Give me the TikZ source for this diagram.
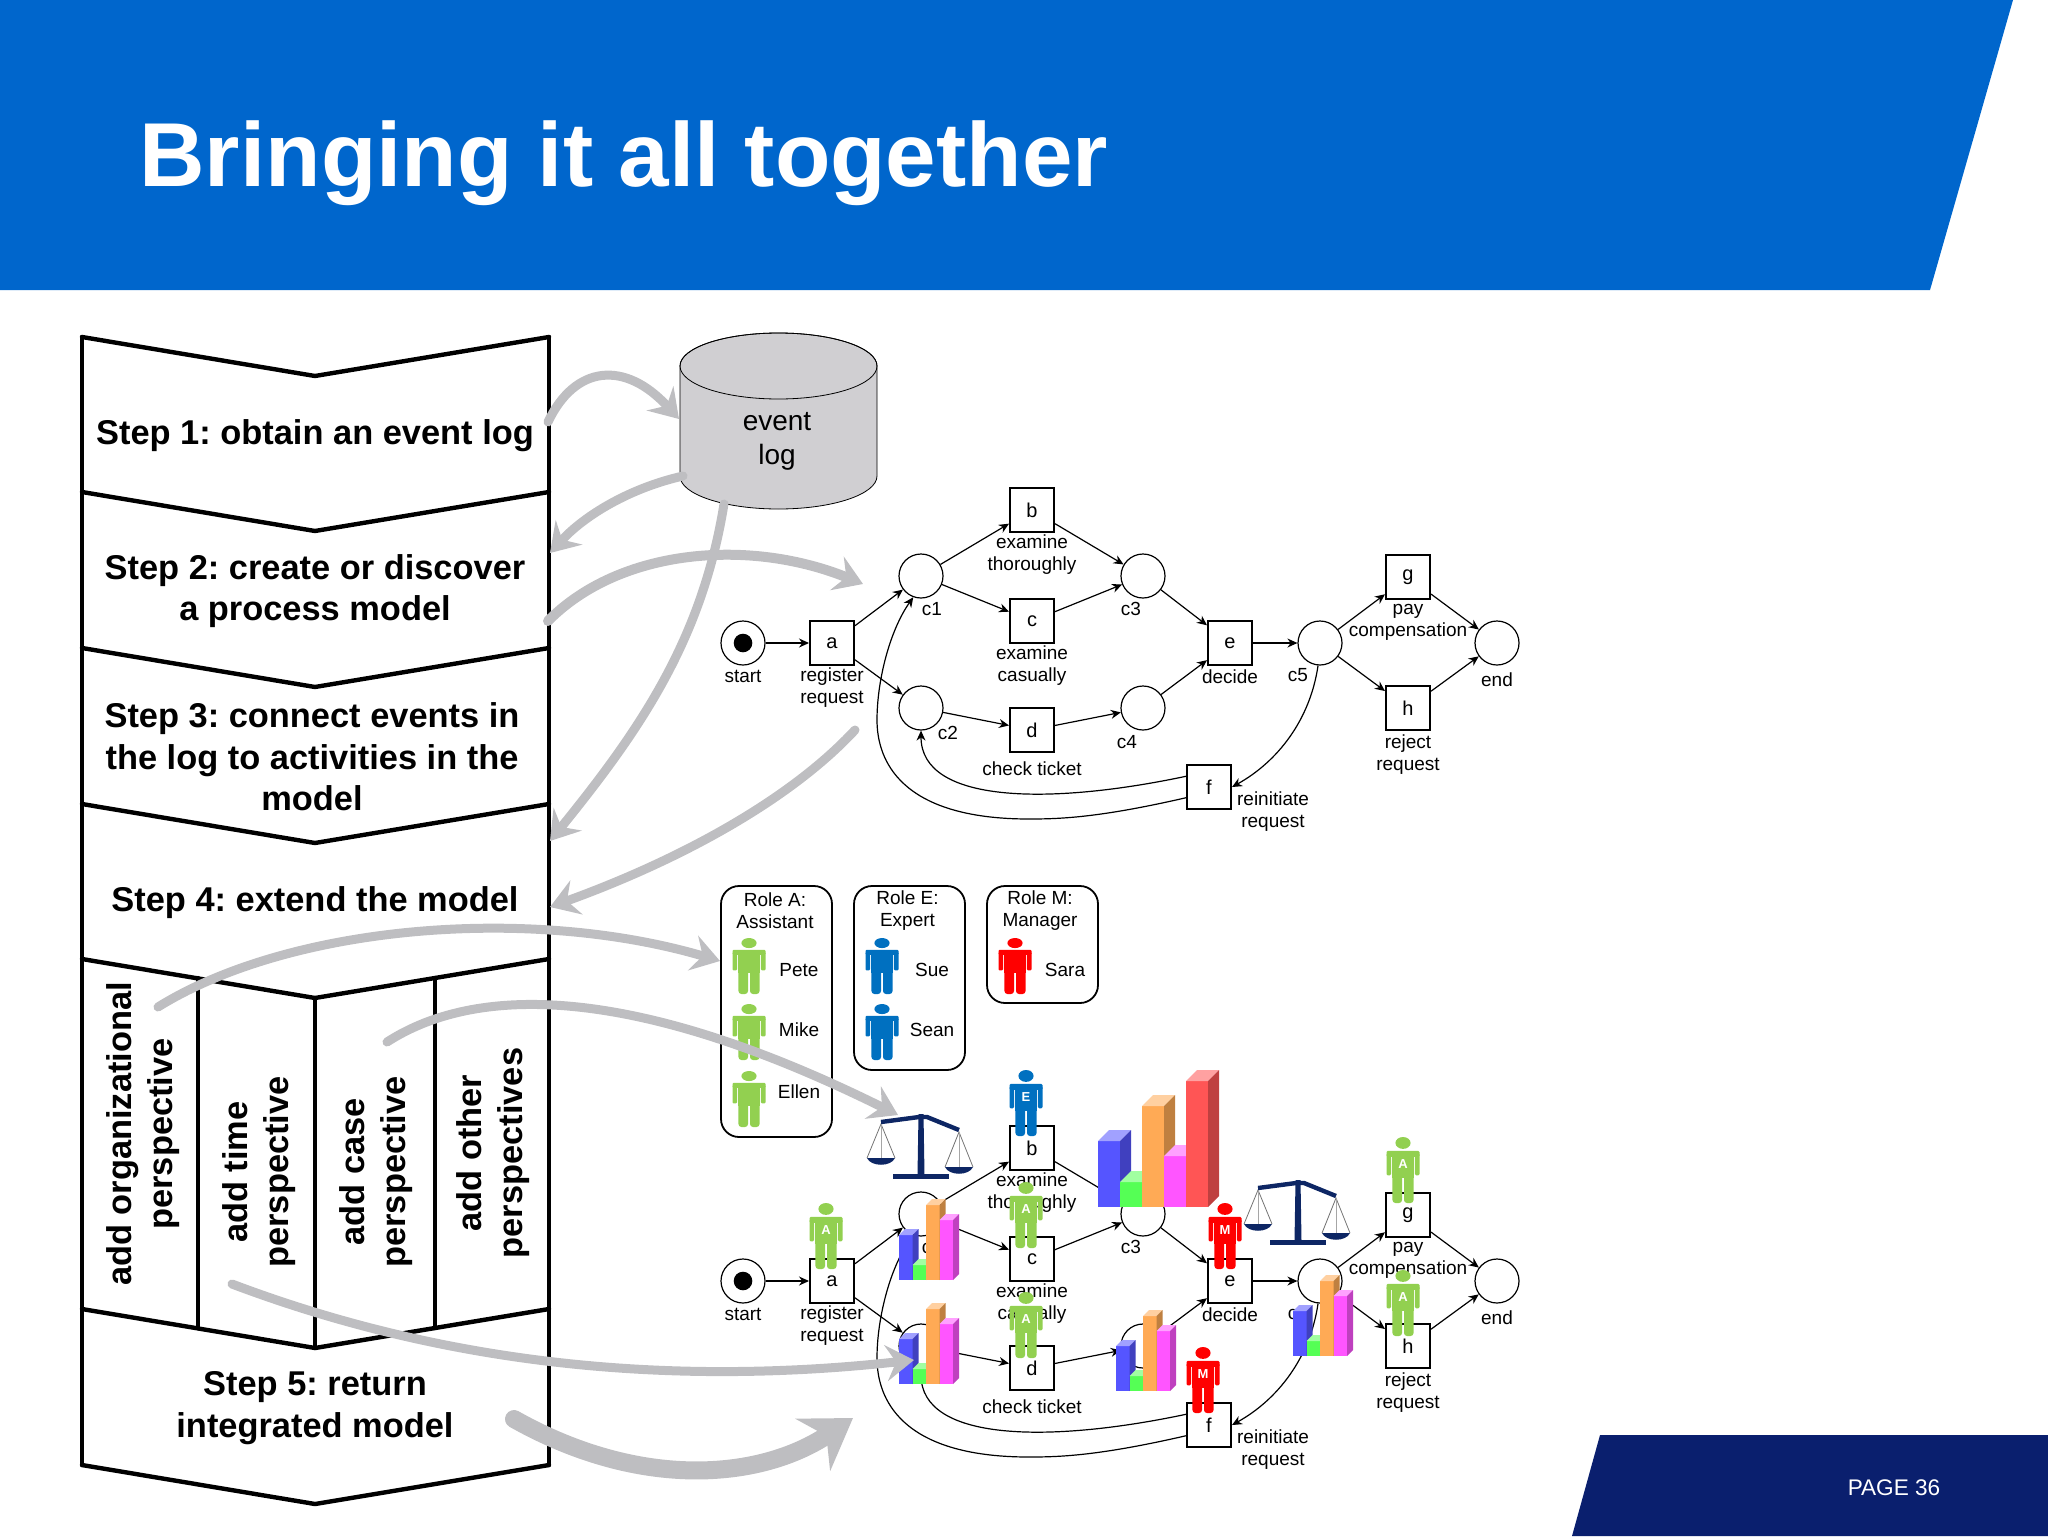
\documentclass[tikz,border=0pt]{standalone}
\usepackage{fontspec}
\setmainfont{Liberation Sans}
\usepackage{xcolor}
\usetikzlibrary{arrows.meta,calc,positioning}
\definecolor{headerBlue}{RGB}{0,102,204}
\definecolor{footerNavy}{RGB}{10,31,110}
\definecolor{flowGray}{RGB}{190,190,193}
\definecolor{logGray}{RGB}{208,207,210}
\definecolor{scaleNavy}{RGB}{13,38,100}
\definecolor{roleGreen}{RGB}{146,208,80}
\definecolor{roleBlue}{RGB}{0,112,192}
\definecolor{roleRed}{RGB}{255,0,0}
\definecolor{chartBlue}{RGB}{85,85,255}
\definecolor{chartGreen}{RGB}{85,255,85}
\definecolor{chartOrange}{RGB}{255,170,85}
\definecolor{chartPink}{RGB}{255,85,255}
\definecolor{chartRed}{RGB}{255,85,85}
\tikzset{
  stair/.style={line width=2.2pt, line cap=round, line join=round},
  steptext/.style={font=\fontsize{17.2}{20.8}\selectfont\bfseries\frenchspacing, align=center, inner sep=0pt},
  sidetext/.style={steptext, rotate=90},
  place/.style={circle, draw, minimum size=22pt, inner sep=0pt, line width=0.6pt},
  trans/.style={rectangle, draw, minimum size=22pt, inner sep=0pt, line width=1pt, font=\fontsize{10}{12}\selectfont},
  netlabel/.style={font=\fontsize{9.5}{11}\selectfont, align=center, inner sep=0pt},
  arc/.style={-{Stealth[length=5pt,width=4.5pt]}, line width=0.6pt},
  flow/.style={-{Stealth[length=14pt,width=18pt,inset=5pt]}, draw=flowGray, line width=4.5pt, line cap=round},
  flowBig/.style={-{Stealth[length=24pt,width=31pt,inset=8pt]}, draw=flowGray, line width=9pt, line cap=round},
  rolebox/.style={rectangle, draw, rounded corners=9pt, minimum width=55.5pt, line width=0.9pt, inner sep=0pt},
  personletter/.style={text=white, font=\fontsize{6.5}{7}\selectfont\bfseries, inner sep=0pt}
}
% one person, top of the head at (x,top)
\newcommand{\Person}[4]{%
  \begin{scope}[shift={(#1,#2)}, x=16.5pt, y=-#3]
    \fill[#4] (0,0.09) ellipse [x radius=0.23, y radius=0.09];
    \fill[#4, rounded corners=0.6pt] (-0.5,0.21) rectangle (0.5,0.30);
    \fill[#4, rounded corners=0.6pt] (-0.5,0.25) rectangle (-0.36,0.58);
    \fill[#4, rounded corners=0.6pt] (0.36,0.25) rectangle (0.5,0.58);
    \fill[#4] (-0.32,0.25) rectangle (0.32,0.62);
    \fill[#4, rounded corners=1.5pt] (-0.32,0.55) rectangle (-0.03,1);
    \fill[#4, rounded corners=1.5pt] (0.03,0.55) rectangle (0.32,1);
  \end{scope}%
}
% person with the role letter on the chest
\newcommand{\RolePerson}[5]{%
  \Person{#1}{#2}{33pt}{#3}
  \node[personletter] (#5) at (#1,#2+27) {#4};
}
% one bar: x, base, height, width, depth, colour
\newcommand{\BarBlock}[6]{%
  \fill[#6] (#1,#2) rectangle ++(#4,-#3);
  \fill[#6!55!white] (#1,#2) ++(0,-#3) -- ++(#5,-#5) -- ++(#4,0) -- ++(-#5,#5) -- cycle;
  \fill[#6!75!black] (#1,#2) ++(#4,0) -- ++(#5,-#5) -- ++(0,-#3) -- ++(-#5,#5) -- cycle;
}
\newcommand{\SmallChart}[2]{%
  \BarBlock{#1}{#2}{45}{13.5}{6}{chartBlue}
  \BarBlock{#1+13.5}{#2}{15}{13.5}{6}{chartGreen}
  \BarBlock{#1+27}{#2}{75}{13.5}{6}{chartOrange}
  \BarBlock{#1+40.5}{#2}{60}{13.5}{6}{chartPink}
}
% balance, x and y are the foot of the post
\newcommand{\Balance}[2]{%
  \begin{scope}[shift={(#1,#2)}]
    \foreach \ex/\ey/\py in {-40/-55/-21, 38/-47/-12}{%
      \draw[black!55, line width=0.4pt] (\ex-14,\py) -- (\ex,\ey) -- (\ex+14,\py);
      \draw[black!35, line width=0.4pt] (\ex,\ey) -- (\ex,\py);
      \fill[scaleNavy] (\ex-14,\py) .. controls (\ex-10,\py+9) and (\ex+10,\py+9) .. (\ex+14,\py) -- cycle;
    }
    \fill[scaleNavy] (-2.5,-65) -- (2.5,-65) -- (3.5,-4) -- (-3.5,-4) -- cycle;
    \fill[scaleNavy] (-28,-5) rectangle (28,0);
    \draw[scaleNavy, line width=2.2pt] (-40,-57) -- (-2,-62) -- (6,-62) -- (38,-49);
  \end{scope}%
}
% the process model, drawn twice
\newcommand{\PetriNet}[2]{%
  \begin{scope}[shift={(0,#1)}, name prefix=#2]
    \foreach \n/\px/\py in {start/743/643, c1/921/576, c2/921/708, c3/1143/576, c4/1143/708, c5/1320/643, end/1497/643}
      \node[place] (\n) at (\px,\py) {};
    \foreach \n/\px/\py in {a/832/643, b/1032/510, c/1032/621, d/1032/730, e/1230/643, f/1209/787, g/1408/577, h/1408/708}
      \node[trans] (\n) at (\px,\py) {\n};
    \fill (743,643) circle [radius=9.3];
    \foreach \s/\t in {start/a, a/c1, a/c2, c1/b, c1/c, c2/d, b/c3, c/c3, d/c4, c3/e, c4/e, e/c5, c5/g, c5/h, g/end, h/end}
      \draw[arc] (\s) -- (\t);
    \draw[arc] (f.155) .. controls +(-137,29) and +(0,73) .. (c2.south);
    \draw[arc] (f.205) .. controls +(-87,20) and (1060,819) .. (1029,819)
      .. controls (900,819) and (877,760) .. (877,720)
      .. controls (877,680) and (890,630) .. (c1.250);
    \draw[arc] (c5.265) .. controls +(-8,55) and +(45,-25) .. (f.east);
    \foreach \n/\px/\py/\txt in {start/743/676/start, a/832/688/register\\request, c1/932/609/c1,
        b/1032/555/examine\\thoroughly, c3/1131/609/c3, c/1032/666/examine\\casually, c2/948/733/c2,
        d/1032/769/check ticket, c4/1127/742/c4, e/1230/677/decide, c5/1298/675/c5,
        g/1408/622/pay\\compensation, h/1408/755/reject\\request, end/1497/680/end,
        f/1273/812/reinitiate\\request}
      \node[netlabel] (lab\n) at (\px,\py) {\txt};
  \end{scope}%
}

\begin{document}
\begin{tikzpicture}[x=0.5pt, y=-0.5pt]
  \useasboundingbox (0,0) rectangle (2048,1536);
  % header and footer
  \fill[headerBlue] (0,0) -- (2013,0) -- (1930,290) -- (0,290) -- cycle;
  \fill[footerNavy] (1600,1435) -- (2048,1435) -- (2048,1536) -- (1572,1536) -- cycle;
  \node[anchor=base west, inner sep=0pt, text=white, font=\fontsize{45.4}{50}\selectfont\bfseries] (title) at (139,186) {Bringing it all together};
  \node[inner sep=0pt, text=white, font=\fontsize{11.3}{13}\selectfont] (page) at (1894,1488) {PAGE 36};

  % the staircase of steps
  \foreach \y in {337,492,648,804,959,1309,1465}
    \draw[stair] (82,\y) -- (315,{\y+39}) -- (549,\y);
  \draw[stair] (82,337) -- (82,1465);
  \draw[stair] (549,337) -- (549,1465);
  \draw[stair] (198,978) -- (198,1328);
  \draw[stair] (315,998) -- (315,1348);
  \draw[stair] (435,978) -- (435,1328);

  \node[steptext] (step1) at (315,436) {Step 1: obtain an event log};
  \node[steptext] (step2) at (315,591) {Step 2: create or discover\\a process model};
  \node[steptext] (step3) at (312,757) {Step 3: connect events in\\the log to activities in the\\model};
  \node[steptext] (step4) at (315,903) {Step 4: extend the model};
  \node[steptext] (step5) at (315,1408) {Step 5: return\\integrated model};
  \node[sidetext] (sideorg) at (143,1134) {add organizational\\perspective};
  \node[sidetext] (sidetime) at (259,1172) {add time\\perspective};
  \node[sidetext] (sidecase) at (376,1172) {add case\\perspective};
  \node[sidetext] (sideother) at (493,1153) {add other\\perspectives};

  % event log
  \draw[fill=logGray, line width=0.4pt] (680,366) -- (680,476)
    arc [start angle=180, end angle=360, x radius=49.25pt, y radius=16.5pt]
    -- (877,366) arc [start angle=0, end angle=180, x radius=49.25pt, y radius=16.5pt] -- cycle;
  \draw[line width=0.4pt] (778.5,366) ellipse [x radius=49.25pt, y radius=16.5pt];
  \node[font=\fontsize{14}{17}\selectfont, align=center, inner sep=0pt] (log) at (777,441) {event\\log};

  \PetriNet{0}{}

  % roles
  \node[rolebox, minimum height=125.5pt] (roleA) at (776.5,1011.5) {};
  \node[rolebox, minimum height=92pt] (roleE) at (909.5,978) {};
  \node[rolebox, minimum height=58.5pt] (roleM) at (1042.5,944.5) {};
  \node[netlabel] (titleA) at (775,911) {Role A:\\Assistant};
  \node[netlabel] (titleE) at (907.5,911) {Role E:\\Expert};
  \node[netlabel] (titleM) at (1040,911) {Role M:\\Manager};
  \foreach \py in {938,1004,1071}{
    \Person{749}{\py}{28pt}{roleGreen}
  }
  \foreach \py in {938,1004}{
    \Person{882}{\py}{28pt}{roleBlue}
  }
  \Person{1015}{938}{28pt}{roleRed}
  \foreach \n/\px/\py in {Pete/799/970, Mike/799/1030, Ellen/799/1092, Sue/932/970, Sean/932/1030, Sara/1065/970}
    \node[netlabel] (\n) at (\px,\py) {\n};

  % the integrated model
  \PetriNet{638}{m-}
  \Balance{921}{1179}
  \Balance{1298}{1245}
  \BarBlock{1098}{1207}{66}{22}{11}{chartBlue}
  \BarBlock{1120}{1207}{25}{22}{11}{chartGreen}
  \BarBlock{1142}{1207}{101}{22}{11}{chartOrange}
  \BarBlock{1164}{1207}{51}{22}{11}{chartPink}
  \BarBlock{1186}{1207}{126}{22}{11}{chartRed}
  \SmallChart{899}{1280}
  \SmallChart{899}{1384}
  \SmallChart{1116}{1391}
  \SmallChart{1293}{1356}
  \Person{1026}{1070}{33pt}{roleBlue}
  \node[personletter] (markb) at (1026,1097) {E};
  \RolePerson{826}{1203}{roleGreen}{A}{marka}
  \RolePerson{1026}{1182}{roleGreen}{A}{markc}
  \RolePerson{1026}{1292}{roleGreen}{A}{markd}
  \RolePerson{1225}{1203}{roleRed}{M}{marke}
  \RolePerson{1203}{1347}{roleRed}{M}{markf}
  \RolePerson{1403}{1137}{roleGreen}{A}{markg}
  \RolePerson{1403}{1270}{roleGreen}{A}{markh}

  % gray flow arrows
  \coordinate (s1out) at (548,422);
  \coordinate (login) at (679,419);
  \coordinate (logleft) at (683,476);
  \coordinate (s2in) at (550,553);
  \coordinate (s2out) at (548,621);
  \coordinate (netin) at (863,584);
  \coordinate (logdown) at (724,504);
  \coordinate (s4in) at (550,841);
  \coordinate (s3out) at (855,730);
  \coordinate (s4side) at (550,907);
  \coordinate (orgout) at (158,1007);
  \coordinate (rolein) at (720,961);
  \coordinate (caseout) at (387,1042);
  \coordinate (balancein) at (898,1115);
  \coordinate (timeout) at (232,1284);
  \coordinate (chartin) at (914,1360);
  \coordinate (s5out) at (514,1419);
  \coordinate (modelin) at (853,1418);
  \draw[flow] (s1out) .. controls (575,365) and (625,360) .. (login);
  \draw[flow] (logleft) .. controls (630,488) and (585,515) .. (s2in);
  \draw[flow, line width=5pt] (s2out) .. controls (620,548) and (750,538) .. (netin);
  \draw[flow] (logdown) .. controls (702,640) and (640,730) .. (s4in);
  \draw[flow] (s3out) .. controls (790,800) and (680,860) .. (s4side);
  \draw[flow] (orgout) .. controls (290,925) and (530,905) .. (rolein);
  \draw[flow] (caseout) .. controls (480,982) and (640,987) .. (balancein);
  \draw[flow] (timeout) .. controls (420,1355) and (640,1390) .. (chartin);
  \draw[flowBig] (s5out) .. controls (640,1490) and (760,1480) .. (modelin);
\end{tikzpicture}
\end{document}
